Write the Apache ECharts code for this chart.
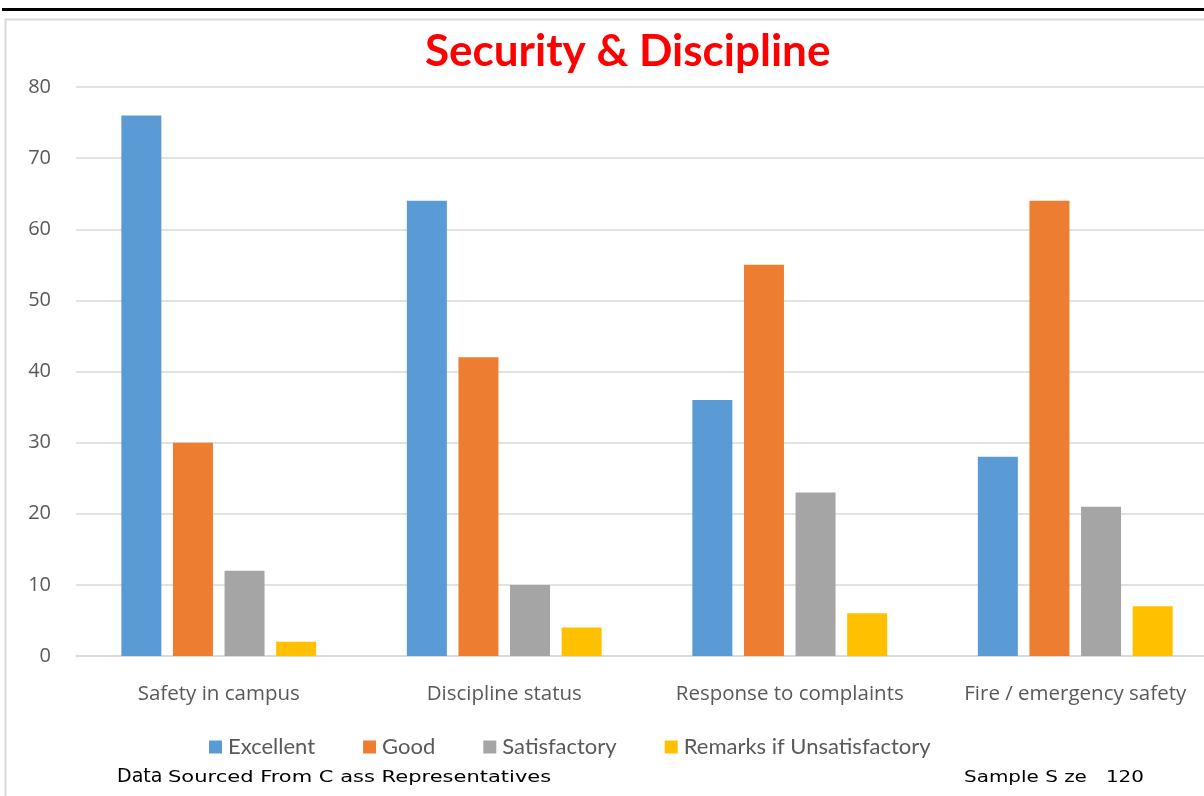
<!DOCTYPE html>
<html>
<head>
<meta charset="utf-8">
<script src="https://cdn.jsdelivr.net/npm/echarts@6/dist/echarts.min.js"></script>
<style>
  html, body { margin: 0; padding: 0; background: #fff; }
  #chart { width: 1204px; height: 796px; }
</style>
</head>
<body>
<div id="chart"></div>
<script>
const categories = ["Safety in campus", "Discipline status", "Response to complaints", "Fire / emergency safety"];
const excellent = [76, 64, 36, 28];
const good = [30, 42, 55, 64];
const satisfactory = [12, 10, 23, 21];
const unsatisfactory = [2, 4, 6, 7];
const seriesNames = ["Excellent", "Good", "Satisfactory", "Remarks if Unsatisfactory"];
const colors = ["#5b9bd5", "#ed7d31", "#a5a5a5", "#ffc000"];

const myCharts = echarts.init(document.getElementById("chart"));

let data = [];
[excellent, good, satisfactory, unsatisfactory].forEach((vals, i) => {
  data.push({
    name: seriesNames[i],
    type: "bar",
    barWidth: 40,
    barGap: "29%",
    data: vals,
    itemStyle: { color: colors[i] },
  });
});

let options = {
  backgroundColor: "#fff",
  animation: false,
  color: colors,
  title: {
    text: "Security & Discipline",
    left: 420,
    top: 25,
    textStyle: {
      color: "#ff0000",
      fontSize: 44,
      fontWeight: "bold",
      fontFamily: "Lato",
    },
  },
  legend: {
    left: 204,
    top: 731,
    itemWidth: 13,
    itemHeight: 13,
    itemGap: 48,
    icon: "rect",
    textStyle: {
      color: "#595959",
      fontSize: 22,
      fontFamily: "Lato",
      padding: [0, 0, 0, 1],
    },
  },
  grid: {
    left: 76,
    top: 87,
    width: 1142,
    height: 569,
    outerBoundsMode: "none",
    containLabel: false,
  },
  xAxis: [
    {
      type: "category",
      data: categories,
      axisTick: { show: false },
      axisLabel: {
        interval: 0,
        hideOverlap: false,
        color: "#595959",
        fontSize: 20.5,
        fontFamily: "Open Sans",
        margin: 28,
      },
      axisLine: {
        show: true,
        lineStyle: { color: "#d9d9d9", width: 1.5 },
      },
    },
  ],
  yAxis: [
    {
      type: "value",
      min: 0,
      max: 80,
      interval: 10,
      axisLabel: {
        color: "#595959",
        fontSize: 20,
        fontFamily: "Open Sans",
        margin: 25,
      },
      axisLine: { show: false },
      axisTick: { show: false },
      splitLine: {
        show: true,
        lineStyle: { color: "#d9d9d9", width: 1.5 },
      },
    },
  ],
  graphic: [
    {
      type: "rect",
      shape: { x: 2, y: 8, width: 1210, height: 3 },
      style: { fill: "#000" },
    },
    {
      type: "rect",
      shape: { x: 5.5, y: 19.5, width: 1210, height: 800 },
      style: { fill: "none", stroke: "#d9d9d9", lineWidth: 2 },
      z: -1,
    },
    {
      type: "text",
      x: 117,
      y: 768,
      style: {
        text: "Data",
        fill: "#000",
        font: "19px 'DejaVu Sans'",
      },
    },
    {
      type: "text",
      x: 168,
      y: 771,
      scaleX: 1.4,
      style: {
        text: "Sourced From C ass Representatives",
        fill: "#000",
        font: "15px 'DejaVu Sans'",
      },
    },
    {
      type: "text",
      x: 964,
      y: 771,
      scaleX: 1.33,
      style: {
        text: "Sample S ze   120",
        fill: "#000",
        font: "15px 'DejaVu Sans'",
      },
    },
  ],
  series: data,
};
myCharts.setOption(options, true);
</script>
</body>
</html>
